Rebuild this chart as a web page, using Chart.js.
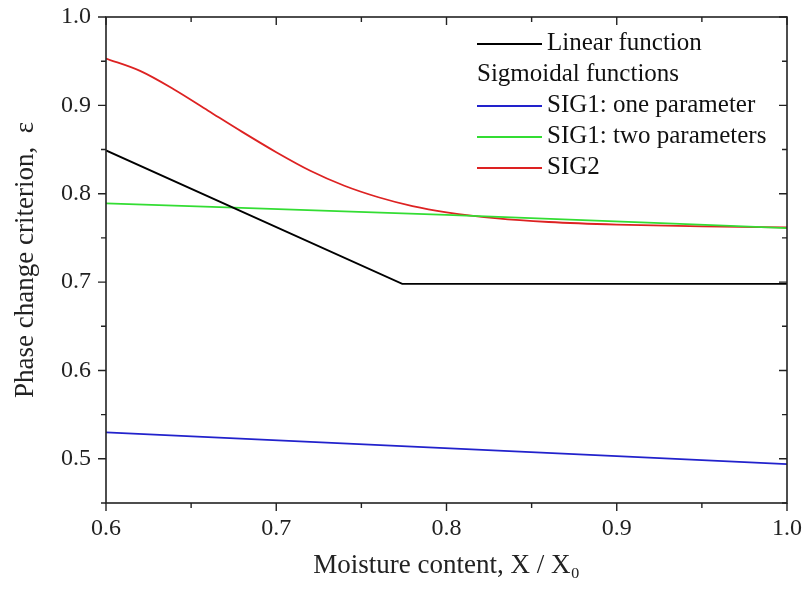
<!DOCTYPE html>
<html>
<head>
<meta charset="utf-8">
<script src="https://cdn.jsdelivr.net/npm/chart.js@4.4.1/dist/chart.umd.min.js"></script>
<style>
  html, body { margin: 0; padding: 0; background: #fff; }
  #wrap { width: 805px; height: 592px; position: relative; }
</style>
</head>
<body>
<div id="wrap"><canvas id="c" width="805" height="592"></canvas></div>
<script>
// ---- data ----
const xTickLabels = [0.6, 0.7, 0.8, 0.9, 1.0];
const yTickLabels = [0.5, 0.6, 0.7, 0.8, 0.9, 1.0];

const linearX = [0.6, 0.774, 1.0];
const linearY = [0.849, 0.698, 0.698];

const sig1OneX = [0.6, 0.9, 1.0];
const sig1OneY = [0.530, 0.503, 0.494];

const sig1TwoX = [0.6, 0.8, 1.0];
const sig1TwoY = [0.789, 0.776, 0.761];

const sig2X = [0.6, 0.62, 0.64, 0.66, 0.68, 0.70, 0.72, 0.74, 0.76, 0.78, 0.80, 0.83, 0.86, 0.90, 0.95, 1.0];
const sig2Y = [0.953, 0.939, 0.918, 0.894, 0.870, 0.847, 0.826, 0.809, 0.796, 0.786, 0.779, 0.772, 0.768, 0.765, 0.763, 0.762];

const legendRows = [
  { text: 'Linear function', color: '#000000' },
  { text: 'Sigmoidal functions', color: null },
  { text: 'SIG1: one parameter', color: '#2222cc' },
  { text: 'SIG1: two parameters', color: '#33dd33' },
  { text: 'SIG2', color: '#dd2222' }
];

const pts = (xs, ys) => xs.map((x, i) => ({ x: x, y: ys[i] }));
const FONT = 'Liberation Serif, Times New Roman, serif';

const frame = {
  id: 'frame',
  afterDraw(chart) {
    const ctx = chart.ctx;
    const a = chart.chartArea;
    const xs = chart.scales.x, ys = chart.scales.y;
    ctx.save();
    ctx.strokeStyle = '#222';
    ctx.lineWidth = 1.6;
    ctx.strokeRect(a.left, a.top, a.right - a.left, a.bottom - a.top);
    ctx.lineWidth = 1.4;
    ctx.beginPath();
    for (let v = 0.6; v <= 1.0001; v += 0.05) {
      const major = Math.abs(Math.round(v * 10) - v * 10) < 1e-6;
      const px = xs.getPixelForValue(v);
      const L = major ? 8 : 5;
      ctx.moveTo(px, a.bottom); ctx.lineTo(px, a.bottom + L);
      ctx.moveTo(px, a.top); ctx.lineTo(px, a.top + L);
    }
    for (let v = 0.45; v <= 1.0001; v += 0.05) {
      const major = Math.abs(Math.round(v * 10) - v * 10) < 1e-6;
      const py = ys.getPixelForValue(v);
      const L = major ? 8 : 5;
      ctx.moveTo(a.left, py); ctx.lineTo(a.left - L, py);
      ctx.moveTo(a.right, py); ctx.lineTo(a.right - L, py);
    }
    ctx.stroke();

    // legend
    const lx0 = 477, lx1 = 542, tx = 547;
    const rowY = [43, 74, 105, 136, 167];
    ctx.font = '25px ' + FONT;
    ctx.textBaseline = 'middle';
    ctx.fillStyle = '#111';
    ctx.textAlign = 'left';
    legendRows.forEach((r, i) => {
      const y = rowY[i];
      if (r.color) {
        ctx.strokeStyle = r.color;
        ctx.lineWidth = 1.8;
        ctx.beginPath(); ctx.moveTo(lx0, y + 1); ctx.lineTo(lx1, y + 1); ctx.stroke();
        ctx.fillText(r.text, tx, y);
      } else {
        ctx.fillText(r.text, lx0, y);
      }
    });
    ctx.restore();
  }
};

const ds = (label, data, color, tension) => ({
  label, data, showLine: true,
  borderColor: color, backgroundColor: color,
  borderWidth: 1.8, pointRadius: 0, fill: false,
  tension: tension || 0,
  cubicInterpolationMode: tension ? 'monotone' : 'default'
});

new Chart(document.getElementById('c'), {
  type: 'scatter',
  data: {
    datasets: [
      ds('Linear function', pts(linearX, linearY), '#000000'),
      ds('SIG1: one parameter', pts(sig1OneX, sig1OneY), '#2222cc'),
      ds('SIG1: two parameters', pts(sig1TwoX, sig1TwoY), '#33dd33', 0.4),
      ds('SIG2', pts(sig2X, sig2Y), '#dd2222', 0.4)
    ]
  },
  options: {
    responsive: false,
    animation: false,
    devicePixelRatio: 1,
    layout: { padding: { left: 0, right: 18, top: 17, bottom: 0 } },
    plugins: { legend: { display: false }, tooltip: { enabled: false } },
    scales: {
      x: {
        type: 'linear', min: 0.6, max: 1.0,
        afterFit(s) { s.height = 89; s.paddingLeft = 0; s.paddingRight = 0; },
        afterBuildTicks(s) { s.ticks = xTickLabels.map(v => ({ value: v })); },
        grid: { display: false, drawTicks: false },
        border: { display: false },
        ticks: {
          padding: 11, color: '#222',
          font: { family: FONT, size: 24 },
          callback: v => v.toFixed(1)
        },
        title: {
          display: true, text: 'Moisture content, X / X\u2080', color: '#222',
          font: { family: FONT, size: 27 },
          padding: { top: 0, bottom: 10 }
        }
      },
      y: {
        type: 'linear', min: 0.45, max: 1.0,
        afterFit(s) { s.width = 106; s.paddingTop = 0; s.paddingBottom = 0; },
        afterBuildTicks(s) { s.ticks = yTickLabels.map(v => ({ value: v })); },
        grid: { display: false, drawTicks: false },
        border: { display: false },
        ticks: {
          padding: 15, color: '#222',
          font: { family: FONT, size: 24 },
          callback: v => v.toFixed(1)
        },
        title: {
          display: true, text: 'Phase change criterion,  \u03b5', color: '#222',
          font: { family: FONT, size: 27 },
          padding: { top: 10, bottom: 0 }
        }
      }
    }
  },
  plugins: [frame]
});
</script>
</body>
</html>
